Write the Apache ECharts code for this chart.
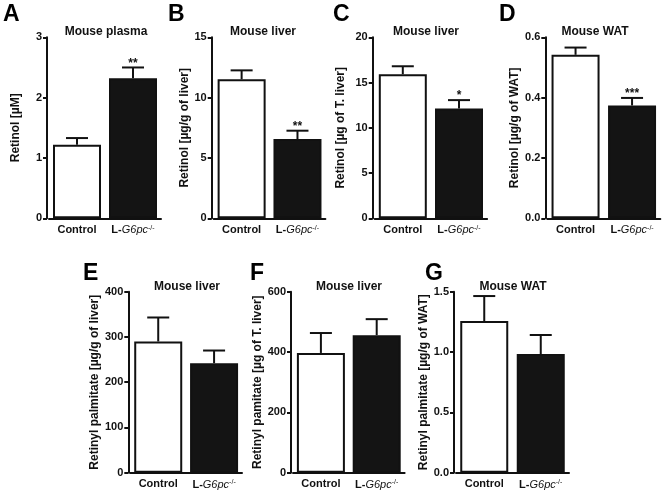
<!DOCTYPE html>
<html>
<head>
<meta charset="utf-8">
<script src="https://cdn.jsdelivr.net/npm/echarts@6/dist/echarts.min.js"></script>
<style>html,body{margin:0;padding:0;background:#fff}#c{width:666px;height:492px}</style>
</head>
<body>
<div id="c"></div>
<script>
// ---- data ----
const categories = ['Control', 'L-G6pc-/-'];
const panelLetters = ['A', 'B', 'C', 'D', 'E', 'F', 'G'];
const panelTitles = ['Mouse plasma', 'Mouse liver', 'Mouse liver', 'Mouse WAT', 'Mouse liver', 'Mouse liver', 'Mouse WAT'];
const yAxisNames = ['Retinol [µM]', 'Retinol [µg/g of liver]', 'Retinol [µg of T. liver]', 'Retinol [µg/g of WAT]',
  'Retinyl palmitate [µg/g of liver]', 'Retinyl pamitate [µg of T. liver]', 'Retinyl palmitate [µg/g of WAT]'];
const yMax = [3, 15, 20, 0.6, 400, 600, 1.5];
const yStep = [1, 5, 5, 0.2, 100, 200, 0.5];
const yDecimals = [0, 0, 0, 1, 0, 0, 1];

const meanA = [1.22, 2.32], errA = [0.11, 0.18], sigA = ['', '**'];
const meanB = [11.52, 6.57], errB = [0.74, 0.69], sigB = ['', '**'];
const meanC = [15.92, 12.14], errC = [0.88, 0.92], sigC = ['', '*'];
const meanD = [0.542, 0.374], errD = [0.024, 0.025], sigD = ['', '***'];
const meanE = [290, 242], errE = [53, 28], sigE = ['', ''];
const meanF = [397, 456], errF = [66, 53], sigF = ['', ''];
const meanG = [1.257, 0.983], errG = [0.207, 0.158], sigG = ['', ''];

const means = [meanA, meanB, meanC, meanD, meanE, meanF, meanG];
const errs = [errA, errB, errC, errD, errE, errF, errG];
const sigs = [sigA, sigB, sigC, sigD, sigE, sigF, sigG];

// ---- layout ----
const FONT = '"Liberation Sans", Arial, Helvetica, sans-serif';
const INK = '#111';
const layout = [
  {axisX: 47,    width: 112,   top: 37.3,  gap: 25,   titleX: 106, letterX: 3,   titleY: 32,  letterY: 15},
  {axisX: 211.7, width: 111.7, top: 37.3,  gap: 21,   titleX: 263, letterX: 168, titleY: 32,  letterY: 15},
  {axisX: 372.7, width: 112.4, top: 37.3,  gap: 26.5, titleX: 426, letterX: 333, titleY: 32,  letterY: 15},
  {axisX: 545.3, width: 113,   top: 37.3,  gap: 25,   titleX: 595, letterX: 499, titleY: 32,  letterY: 15},
  {axisX: 128.3, width: 111.7, top: 291.7, gap: 25,   titleX: 187, letterX: 83,  titleY: 287, letterY: 274},
  {axisX: 291,   width: 111.6, top: 291.7, gap: 26,   titleX: 349, letterX: 250, titleY: 287, letterY: 274},
  {axisX: 454,   width: 113,   top: 291.7, gap: 23,   titleX: 513, letterX: 425, titleY: 287, letterY: 274}
];
const OFFSET = 2;

const grids = [], xAxes = [], yAxes = [], series = [], graphics = [];
layout.forEach((L, p) => {
  grids.push({left: L.axisX + OFFSET, top: L.top, width: L.width, height: 181});
  xAxes.push({
    gridIndex: p, type: 'category', data: categories,
    axisLine: {lineStyle: {color: INK, width: 2}},
    axisTick: {show: false},
    axisLabel: {
      margin: 6, interval: 0,
      formatter: v => v === 'Control' ? '{b|Control}' : '{b|L-}{i|G6pc}{s|-/-}',
      rich: {
        b: {fontFamily: FONT, fontWeight: 'bold', fontSize: 11, color: INK},
        i: {fontFamily: FONT, fontStyle: 'italic', fontSize: 11, color: INK},
        s: {fontFamily: FONT, fontSize: 7, color: INK, verticalAlign: 'top', padding: [0, 0, 5, 0]}
      }
    }
  });
  yAxes.push({
    gridIndex: p, type: 'value', min: 0, max: yMax[p], interval: yStep[p], offset: OFFSET,
    axisLine: {show: true, lineStyle: {color: INK, width: 2}},
    axisTick: {show: true, length: 4, lineStyle: {color: INK, width: 2}},
    splitLine: {show: false},
    axisLabel: {margin: 5, fontFamily: FONT, fontWeight: 'bold', fontSize: 11, color: INK,
      formatter: v => Number(v).toFixed(yDecimals[p])},
    name: yAxisNames[p], nameLocation: 'middle', nameGap: L.gap,
    nameTextStyle: {fontFamily: FONT, fontWeight: 'bold', fontSize: 12, color: INK}
  });
  series.push({
    type: 'bar', xAxisIndex: p, yAxisIndex: p, barWidth: 48,
    data: means[p].map((v, i) => ({value: v, itemStyle: {color: i === 0 ? '#ffffff' : '#141414'}})),
    itemStyle: {borderColor: INK, borderWidth: 2},
    silent: true, animation: false
  });
  series.push({
    type: 'custom', xAxisIndex: p, yAxisIndex: p, animation: false, silent: true, z: 5,
    data: means[p].map((v, i) => [i, v, errs[p][i]]),
    renderItem: (params, api) => {
      const x = api.value(0), v = api.value(1), e = api.value(2);
      const b = api.coord([x, v]);
      const t = api.coord([x, v + e]);
      const star = sigs[p][params.dataIndex];
      const st = {stroke: INK, lineWidth: 2};
      const kids = [
        {type: 'line', shape: {x1: b[0], y1: b[1], x2: t[0], y2: t[1]}, style: st},
        {type: 'line', shape: {x1: t[0] - 11, y1: t[1], x2: t[0] + 11, y2: t[1]}, style: st}
      ];
      if (star) {
        kids.push({type: 'text', style: {text: star, x: t[0], y: t[1] + 2,
          textAlign: 'center', textVerticalAlign: 'bottom', align: 'center', verticalAlign: 'bottom',
          fill: INK, font: 'bold 12px ' + FONT}});
      }
      return {type: 'group', children: kids};
    }
  });
  graphics.push({type: 'text', x: L.titleX, y: L.titleY, silent: true,
    style: {text: panelTitles[p], textAlign: 'center', textVerticalAlign: 'middle', align: 'center', verticalAlign: 'middle',
      fill: INK, font: 'bold 12px ' + FONT}});
  graphics.push({type: 'text', x: L.letterX, y: L.letterY, silent: true,
    style: {text: panelLetters[p], textAlign: 'left', textVerticalAlign: 'middle', align: 'left', verticalAlign: 'middle',
      fill: '#000', font: 'bold 23px ' + FONT}});
});

const chart = echarts.init(document.getElementById('c'), null, {renderer: 'canvas'});
chart.setOption({
  animation: false,
  backgroundColor: '#fff',
  grid: grids, xAxis: xAxes, yAxis: yAxes, series: series, graphic: graphics
});
</script>
</body>
</html>
